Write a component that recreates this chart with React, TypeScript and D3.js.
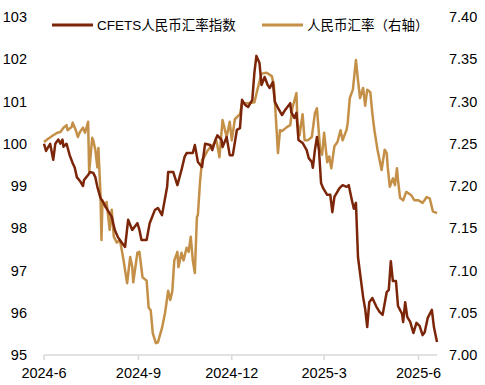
import React, { useEffect, useRef } from "react";
import * as d3 from "d3";

// CFETS人民币汇率指数 (left axis)
const cfets: [string, number][] = [
  ["2024-06-01", 100.0], ["2024-06-03", 99.83], ["2024-06-07", 100.0], ["2024-06-10", 99.62],
  ["2024-06-12", 100.0], ["2024-06-15", 100.1], ["2024-06-17", 100.0], ["2024-06-19", 100.1],
  ["2024-06-20", 99.93], ["2024-06-23", 100.0], ["2024-06-26", 99.73], ["2024-06-29", 99.54],
  ["2024-07-01", 99.43], ["2024-07-03", 99.21], ["2024-07-06", 99.12], ["2024-07-09", 99.0],
  ["2024-07-10", 99.14], ["2024-07-14", 99.26], ["2024-07-16", 99.33], ["2024-07-19", 99.31],
  ["2024-07-21", 99.21], ["2024-07-23", 98.98], ["2024-07-26", 98.72], ["2024-07-29", 98.6],
  ["2024-08-02", 98.43], ["2024-08-06", 98.27], ["2024-08-09", 97.96], ["2024-08-12", 97.79],
  ["2024-08-16", 97.65], ["2024-08-19", 97.56], ["2024-08-22", 98.2], ["2024-08-26", 97.96],
  ["2024-08-31", 98.12], ["2024-09-02", 97.96], ["2024-09-04", 97.72], ["2024-09-09", 97.72],
  ["2024-09-12", 98.12], ["2024-09-17", 98.43], ["2024-09-20", 98.48], ["2024-09-24", 98.31],
  ["2024-09-29", 98.98], ["2024-09-30", 99.33], ["2024-10-05", 99.33], ["2024-10-09", 99.02],
  ["2024-10-13", 99.38], ["2024-10-16", 99.69], ["2024-10-18", 99.78], ["2024-10-24", 99.78],
  ["2024-10-26", 99.97], ["2024-10-29", 99.57], ["2024-11-02", 99.45], ["2024-11-05", 100.0],
  ["2024-11-10", 99.97], ["2024-11-12", 99.85], ["2024-11-15", 100.09], ["2024-11-17", 100.2],
  ["2024-11-21", 100.09], ["2024-11-22", 99.92], ["2024-11-26", 100.16], ["2024-11-29", 99.73],
  ["2024-12-02", 99.73], ["2024-12-06", 100.33], ["2024-12-09", 100.37], ["2024-12-11", 101.04],
  ["2024-12-14", 100.92], ["2024-12-17", 100.87], ["2024-12-21", 101.04], ["2024-12-23", 101.67],
  ["2024-12-25", 102.08], ["2024-12-28", 101.91], ["2024-12-30", 101.39], ["2025-01-02", 101.58],
  ["2025-01-05", 101.39], ["2025-01-07", 101.32], ["2025-01-10", 101.46], ["2025-01-12", 100.99],
  ["2025-01-15", 100.85], ["2025-01-19", 100.68], ["2025-01-22", 100.8], ["2025-01-27", 100.96],
  ["2025-01-28", 100.75], ["2025-01-31", 100.61], ["2025-02-02", 100.73], ["2025-02-04", 100.09],
  ["2025-02-08", 100.02], ["2025-02-12", 99.85], ["2025-02-14", 99.66], ["2025-02-17", 99.57],
  ["2025-02-18", 99.43], ["2025-02-20", 99.85], ["2025-02-22", 100.16], ["2025-02-24", 99.85],
  ["2025-02-26", 99.07], ["2025-02-28", 98.95], ["2025-03-04", 98.79], ["2025-03-07", 98.79],
  ["2025-03-09", 98.38], ["2025-03-11", 98.74], ["2025-03-16", 98.95], ["2025-03-19", 99.02],
  ["2025-03-23", 98.98], ["2025-03-25", 99.02], ["2025-03-28", 98.67], ["2025-03-30", 98.46],
  ["2025-04-01", 98.6], ["2025-04-03", 97.32], ["2025-04-05", 96.94], ["2025-04-08", 96.37],
  ["2025-04-10", 96.09], ["2025-04-12", 95.66], ["2025-04-14", 96.25], ["2025-04-17", 96.35],
  ["2025-04-21", 96.14], ["2025-04-24", 96.02], ["2025-04-27", 95.95], ["2025-05-01", 96.49],
  ["2025-05-03", 96.54], ["2025-05-05", 97.22], ["2025-05-07", 96.75], ["2025-05-10", 96.75],
  ["2025-05-12", 96.16], ["2025-05-16", 95.97], ["2025-05-17", 95.78], ["2025-05-19", 96.25],
  ["2025-05-21", 95.9], ["2025-05-24", 95.78], ["2025-05-27", 95.52], ["2025-05-30", 95.76],
  ["2025-06-02", 95.69], ["2025-06-05", 95.47], ["2025-06-07", 95.54], ["2025-06-10", 95.88],
  ["2025-06-14", 96.07], ["2025-06-16", 95.66], ["2025-06-19", 95.31],
];

// 人民币汇率 (right axis)
const usdcny: [string, number][] = [
  ["2024-06-01", 7.252], ["2024-06-05", 7.256], ["2024-06-10", 7.26], ["2024-06-14", 7.263],
  ["2024-06-17", 7.264], ["2024-06-20", 7.269], ["2024-06-23", 7.272], ["2024-06-24", 7.266],
  ["2024-06-28", 7.27], ["2024-06-29", 7.275], ["2024-07-02", 7.266], ["2024-07-04", 7.258],
  ["2024-07-06", 7.264], ["2024-07-09", 7.269], ["2024-07-11", 7.263], ["2024-07-14", 7.276],
  ["2024-07-15", 7.217], ["2024-07-18", 7.257], ["2024-07-19", 7.254], ["2024-07-21", 7.243],
  ["2024-07-23", 7.222], ["2024-07-24", 7.245], ["2024-07-26", 7.192], ["2024-07-27", 7.136],
  ["2024-07-28", 7.183], ["2024-07-31", 7.175], ["2024-08-01", 7.181], ["2024-08-04", 7.148],
  ["2024-08-06", 7.172], ["2024-08-08", 7.14], ["2024-08-11", 7.133], ["2024-08-14", 7.136],
  ["2024-08-17", 7.116], ["2024-08-21", 7.085], ["2024-08-24", 7.116], ["2024-08-26", 7.104],
  ["2024-08-27", 7.086], ["2024-08-31", 7.121], ["2024-09-02", 7.122], ["2024-09-05", 7.092],
  ["2024-09-09", 7.088], ["2024-09-11", 7.056], ["2024-09-13", 7.053], ["2024-09-15", 7.026],
  ["2024-09-18", 7.014], ["2024-09-20", 7.015], ["2024-09-24", 7.032], ["2024-09-27", 7.05],
  ["2024-09-30", 7.076], ["2024-10-02", 7.065], ["2024-10-04", 7.075], ["2024-10-06", 7.112],
  ["2024-10-09", 7.122], ["2024-10-10", 7.104], ["2024-10-13", 7.121], ["2024-10-15", 7.112],
  ["2024-10-18", 7.127], ["2024-10-20", 7.122], ["2024-10-22", 7.14], ["2024-10-24", 7.112],
  ["2024-10-26", 7.097], ["2024-10-28", 7.163], ["2024-10-29", 7.166], ["2024-10-31", 7.204],
  ["2024-11-02", 7.231], ["2024-11-04", 7.234], ["2024-11-07", 7.241], ["2024-11-10", 7.246],
  ["2024-11-13", 7.249], ["2024-11-16", 7.254], ["2024-11-19", 7.234], ["2024-11-22", 7.278],
  ["2024-11-26", 7.258], ["2024-11-29", 7.276], ["2024-12-01", 7.254], ["2024-12-04", 7.279],
  ["2024-12-09", 7.285], ["2024-12-11", 7.298], ["2024-12-17", 7.298], ["2024-12-23", 7.299],
  ["2024-12-26", 7.314], ["2024-12-30", 7.333], ["2025-01-04", 7.334], ["2025-01-09", 7.33],
  ["2025-01-11", 7.32], ["2025-01-13", 7.28], ["2025-01-15", 7.239], ["2025-01-17", 7.266],
  ["2025-01-19", 7.265], ["2025-01-24", 7.27], ["2025-01-27", 7.272], ["2025-01-29", 7.292],
  ["2025-02-02", 7.31], ["2025-02-03", 7.276], ["2025-02-05", 7.26], ["2025-02-08", 7.285],
  ["2025-02-10", 7.254], ["2025-02-13", 7.254], ["2025-02-17", 7.258], ["2025-02-20", 7.286],
  ["2025-02-22", 7.292], ["2025-02-25", 7.245], ["2025-02-27", 7.237], ["2025-03-01", 7.263],
  ["2025-03-04", 7.228], ["2025-03-06", 7.235], ["2025-03-08", 7.221], ["2025-03-11", 7.247],
  ["2025-03-14", 7.252], ["2025-03-17", 7.266], ["2025-03-19", 7.254], ["2025-03-23", 7.267],
  ["2025-03-24", 7.275], ["2025-03-26", 7.304], ["2025-03-29", 7.314], ["2025-04-01", 7.349],
  ["2025-04-03", 7.325], ["2025-04-05", 7.304], ["2025-04-08", 7.316], ["2025-04-10", 7.295],
  ["2025-04-12", 7.314], ["2025-04-15", 7.311], ["2025-04-17", 7.286], ["2025-04-19", 7.266],
  ["2025-04-22", 7.243], ["2025-04-24", 7.231], ["2025-04-26", 7.219], ["2025-04-29", 7.243],
  ["2025-05-01", 7.239], ["2025-05-02", 7.222], ["2025-05-04", 7.199], ["2025-05-07", 7.209],
  ["2025-05-09", 7.201], ["2025-05-11", 7.221], ["2025-05-12", 7.207], ["2025-05-14", 7.186],
  ["2025-05-17", 7.183], ["2025-05-20", 7.193], ["2025-05-25", 7.189], ["2025-05-28", 7.183],
  ["2025-06-01", 7.183], ["2025-06-05", 7.18], ["2025-06-09", 7.187], ["2025-06-12", 7.185],
  ["2025-06-15", 7.17], ["2025-06-19", 7.168],
];

const xTicks = ["2024-06-01", "2024-09-01", "2024-12-01", "2025-03-01", "2025-06-01"];
const leftTicks = [95, 96, 97, 98, 99, 100, 101, 102, 103];
const rightTicks = [7.0, 7.05, 7.1, 7.15, 7.2, 7.25, 7.3, 7.35, 7.4];
const legend = [
  { name: "CFETS人民币汇率指数", color: "#7B2509" },
  { name: "人民币汇率（右轴）", color: "#C48F47" },
];

const W = 485;
const H = 385;
const font = "'Liberation Sans', Arial, 'Noto Sans CJK SC', sans-serif";

export default function App() {
  const ref = useRef<SVGSVGElement>(null);

  useEffect(() => {
    const svg = d3.select(ref.current);
    svg.selectAll("*").remove();

    const parse = d3.timeParse("%Y-%m-%d");
    const x = d3
      .scaleTime()
      .domain([parse("2024-06-01")!, parse("2025-06-19")!])
      .range([44, 437]);
    const yL = d3.scaleLinear().domain([95, 103]).range([355, 17]);
    const yR = d3.scaleLinear().domain([7.0, 7.4]).range([355, 17]);

    // x axis
    const ax = svg.append("g").attr("transform", "translate(0,355)");
    ax.append("line")
      .attr("x1", 44)
      .attr("x2", 437)
      .attr("stroke", "#d9d9d9")
      .attr("stroke-width", 1.5);
    ax.selectAll("line.tick")
      .data(xTicks)
      .join("line")
      .attr("class", "tick")
      .attr("x1", (d) => x(parse(d)!))
      .attr("x2", (d) => x(parse(d)!))
      .attr("y1", 0)
      .attr("y2", 5)
      .attr("stroke", "#d9d9d9")
      .attr("stroke-width", 1.5);
    ax.selectAll("text")
      .data(xTicks)
      .join("text")
      .attr("x", (d) => x(parse(d)!))
      .attr("y", 23)
      .attr("text-anchor", "middle")
      .style("font", `14.5px ${font}`)
      .attr("fill", "#000")
      .text((d) => d3.timeFormat("%Y-%-m")(parse(d)!));

    // left axis labels
    svg.append("g")
      .selectAll("text")
      .data(leftTicks)
      .join("text")
      .attr("x", 27)
      .attr("y", (d) => yL(d))
      .attr("dy", "0.35em")
      .attr("text-anchor", "end")
      .style("font", `14.5px ${font}`)
      .text((d) => d);

    // right axis labels
    svg.append("g")
      .selectAll("text")
      .data(rightTicks)
      .join("text")
      .attr("x", 449)
      .attr("y", (d) => yR(d))
      .attr("dy", "0.35em")
      .attr("text-anchor", "start")
      .style("font", `14.5px ${font}`)
      .text((d) => d.toFixed(2));

    const lineL = d3
      .line<[string, number]>()
      .x((d) => x(parse(d[0])!))
      .y((d) => yL(d[1]));
    const lineR = d3
      .line<[string, number]>()
      .x((d) => x(parse(d[0])!))
      .y((d) => yR(d[1]));

    svg.append("path")
      .datum(usdcny)
      .attr("d", lineR)
      .attr("fill", "none")
      .attr("stroke", legend[1].color)
      .attr("stroke-width", 2.5)
      .attr("stroke-linejoin", "round");
    svg.append("path")
      .datum(cfets)
      .attr("d", lineL)
      .attr("fill", "none")
      .attr("stroke", legend[0].color)
      .attr("stroke-width", 2.5)
      .attr("stroke-linejoin", "round");

    // legend
    const lg = svg.append("g");
    const lx = [52, 262];
    legend.forEach((l, i) => {
      lg.append("line")
        .attr("x1", lx[i])
        .attr("x2", lx[i] + 41)
        .attr("y1", 25)
        .attr("y2", 25)
        .attr("stroke", l.color)
        .attr("stroke-width", 3);
      lg.append("text")
        .attr("x", lx[i] + 45)
        .attr("y", 25)
        .attr("dy", "0.38em")
        .style("font", `13.5px ${font}`)
        .text(l.name);
    });
  }, []);

  return (
    <svg
      ref={ref}
      width={W}
      height={H}
      style={{ position: "absolute", left: 0, top: 0, background: "#fff" }}
    />
  );
}
